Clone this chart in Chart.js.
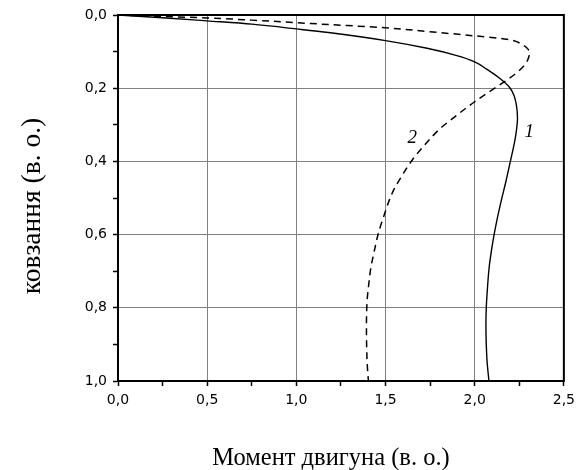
<!DOCTYPE html>
<html>
<head>
<meta charset="utf-8">
<script src="https://cdn.jsdelivr.net/npm/chart.js@4.4.1/dist/chart.umd.min.js"></script>
<style>
  html, body { margin: 0; padding: 0; background: #fff; }
</style>
</head>
<body>
<canvas id="chartMoment" width="581" height="470"></canvas>
<script>
// крива 1 (суцільна)
const torque1 = [0, 0.27, 0.5, 0.75, 1.0, 1.18, 1.5, 1.733, 1.9, 2.0, 2.067, 2.14, 2.196, 2.222, 2.235, 2.24, 2.234, 2.224, 2.2, 2.175, 2.15, 2.127, 2.107, 2.092, 2.081, 2.071, 2.065, 2.063, 2.065, 2.07, 2.08]
const slip1 = [0, 0.008, 0.016, 0.025, 0.038, 0.048, 0.07, 0.091, 0.111, 0.128, 0.148, 0.173, 0.198, 0.222, 0.25, 0.282, 0.315, 0.346, 0.4, 0.455, 0.505, 0.555, 0.605, 0.65, 0.69, 0.75, 0.8, 0.85, 0.9, 0.95, 1.0]

// крива 2 (штрихова)
const torque2 = [0, 0.25, 0.5, 0.75, 1.0, 1.18, 1.5, 1.733, 2.0, 2.18, 2.27, 2.3, 2.307, 2.298, 2.28, 2.23, 2.14, 2.0, 1.865, 1.807, 1.743, 1.65, 1.595, 1.548, 1.515, 1.493, 1.46, 1.435, 1.418, 1.405, 1.397, 1.393, 1.394, 1.397, 1.404]
const slip2 = [0, 0.004, 0.008, 0.014, 0.021, 0.026, 0.035, 0.045, 0.057, 0.066, 0.082, 0.094, 0.106, 0.122, 0.137, 0.16, 0.191, 0.237, 0.287, 0.31, 0.342, 0.396, 0.437, 0.476, 0.514, 0.546, 0.596, 0.65, 0.69, 0.74, 0.78, 0.85, 0.9, 0.95, 1.0]

const curveLabels = ['1', '2']
const labelTorque = [2.306, 1.65]
const labelSlip = [0.32, 0.336]

const xTitle = 'Момент двигуна (в. о.)'
const yTitle = 'ковзання (в. о.)'

function toPoints(xs, ys) {
    return xs.map((x, i) => ({ x: x, y: ys[i] }))
}

function fmt(v) {
    return v.toFixed(1).replace('.', ',')
}

// рамка, номери кривих і підписи осей
const frameAndLabels = {
    id: 'frameAndLabels',
    afterDraw(chart) {
        const ctx = chart.ctx
        const a = chart.chartArea
        ctx.save()
        ctx.strokeStyle = '#000'
        ctx.lineWidth = 2
        ctx.strokeRect(a.left, a.top, a.right - a.left, a.bottom - a.top)
        ctx.fillStyle = '#000'
        ctx.textAlign = 'center'
        ctx.textBaseline = 'middle'
        ctx.font = 'italic 19px "Liberation Serif"'
        curveLabels.forEach((t, i) => {
            ctx.fillText(t, chart.scales.x.getPixelForValue(labelTorque[i]), chart.scales.y.getPixelForValue(labelSlip[i]))
        })

        ctx.textBaseline = 'alphabetic'
        ctx.font = '24.5px "Liberation Serif"'
        ctx.fillText(xTitle, 331, 465)

        ctx.save()
        ctx.translate(40, 206)
        ctx.rotate(-Math.PI / 2)
        ctx.font = '27.5px "Liberation Serif"'
        ctx.fillText(yTitle, 0, 0)
        ctx.restore()
        ctx.restore()
    }
}

const gridColor = ctx => ctx.index % 2 === 0 ? '#808080' : 'rgba(0,0,0,0)'

new Chart(document.getElementById('chartMoment'), {
    type: 'scatter',
    data: {
        datasets: [{
            label: '1',
            data: toPoints(torque1, slip1),
            showLine: true,
            borderColor: '#000',
            borderWidth: 1.4,
            pointRadius: 0,
            indexAxis: 'y',
            cubicInterpolationMode: 'monotone'
        }, {
            label: '2',
            data: toPoints(torque2, slip2),
            showLine: true,
            borderColor: '#000',
            borderWidth: 1.5,
            borderDash: [7, 5],
            pointRadius: 0,
            indexAxis: 'y',
            cubicInterpolationMode: 'monotone'
        }]
    },
    options: {
        responsive: false,
        animation: false,
        indexAxis: 'y',
        layout: { padding: { top: 15, right: 14, left: 0, bottom: 0 } },
        plugins: {
            legend: { display: false },
            tooltip: { enabled: false }
        },
        scales: {
            x: {
                type: 'linear',
                min: 0,
                max: 2.5,
                afterFit: function(scale) { scale.height = 89 },
                border: { display: true, color: '#000', width: 2 },
                grid: {
                    color: gridColor,
                    lineWidth: 1,
                    tickColor: '#000',
                    tickLength: 5,
                    tickWidth: 1.5
                },
                ticks: {
                    stepSize: 0.25,
                    padding: 6,
                    color: '#000',
                    font: { family: '"DejaVu Sans"', size: 14 },
                    maxRotation: 0,
                    autoSkip: false,
                    callback: v => Math.round(v * 4) % 2 === 0 ? fmt(v) : ''
                }
            },
            y: {
                type: 'linear',
                min: 0,
                max: 1,
                reverse: true,
                afterFit: function(scale) { scale.width = 118 },
                border: { display: true, color: '#000', width: 2 },
                grid: {
                    color: gridColor,
                    lineWidth: 1,
                    tickColor: '#000',
                    tickLength: 5,
                    tickWidth: 1.5
                },
                ticks: {
                    stepSize: 0.1,
                    padding: 6,
                    color: '#000',
                    font: { family: '"DejaVu Sans"', size: 14 },
                    autoSkip: false,
                    callback: v => Math.round(v * 10) % 2 === 0 ? fmt(v) : ''
                }
            }
        }
    },
    plugins: [frameAndLabels]
})
</script>
</body>
</html>
